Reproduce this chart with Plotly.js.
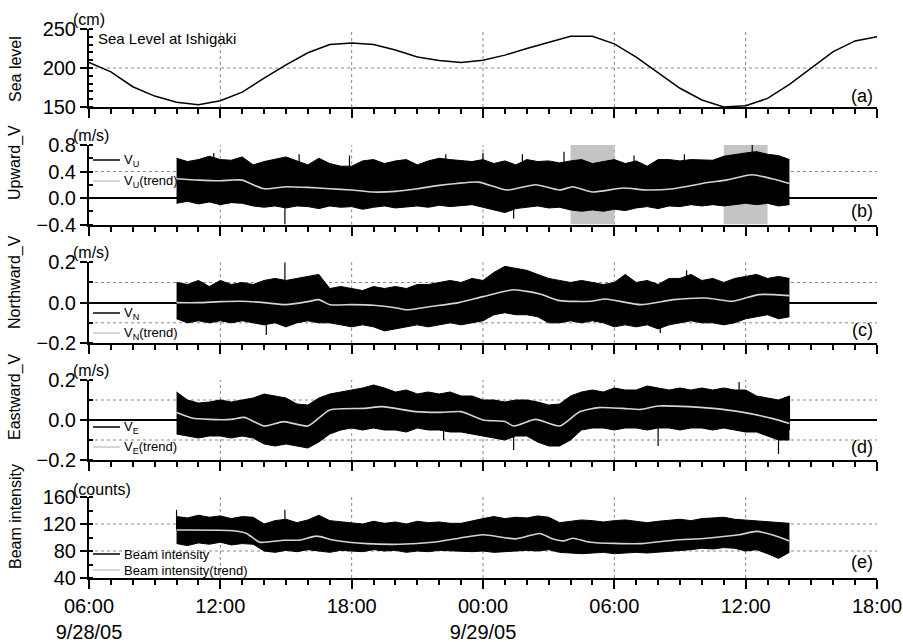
<!DOCTYPE html>
<html>
<head>
<meta charset="utf-8">
<script src="https://cdn.plot.ly/plotly-3.0.1.min.js"></script>
<style>html,body{margin:0;padding:0;background:#fff;}#chart{width:903px;height:642px;}</style>
</head>
<body>
<div id="chart"></div>
<script>
// ---------- DATA (hours since 2005-09-28 06:00) ----------
const seaHours = [0,1,2,3,4,5,6,7,8,9,10,11,12,13,14,15,16,17,18,19,20,21,22,23,24,25,26,27,28,29,30,31,32,33,34,35,36];
const seaLevel = [207,195,176,164,156,153,158,169,187,204,219.5,230,232,230,223,214,209.5,207,210,216.5,225,233,240.7,240.7,231,214,194,174,159,150,151.7,161,179,200,221,234.7,240];

const envHours = [4,4.5,5,5.5,6,6.5,7,7.5,8,8.5,9,9.5,10,10.5,11,11.5,12,12.5,13,13.5,14,14.5,15,15.5,16,16.5,17,17.5,18,18.5,19,19.5,20,20.5,21,21.5,22,22.5,23,23.5,24,24.5,25,25.5,26,26.5,27,27.5,28,28.5,29,29.5,30,30.5,31,31.5,32];

const upU = [0.60,0.55,0.58,0.63,0.58,0.57,0.62,0.50,0.55,0.58,
             0.62,0.56,0.50,0.60,0.52,0.48,0.48,0.56,0.58,0.52,
             0.56,0.58,0.50,0.56,0.60,0.58,0.56,0.55,0.58,0.52,
             0.56,0.50,0.58,0.55,0.56,0.53,0.56,0.58,0.52,0.55,
             0.58,0.52,0.56,0.48,0.58,0.58,0.56,0.58,0.58,0.57,
             0.63,0.66,0.68,0.70,0.66,0.64,0.58];
const loU = [-0.08,-0.05,-0.09,-0.06,-0.10,-0.07,-0.08,-0.12,-0.14,-0.12,
             -0.15,-0.12,-0.13,-0.16,-0.12,-0.14,-0.13,-0.17,-0.14,-0.12,
             -0.15,-0.13,-0.12,-0.14,-0.11,-0.13,-0.12,-0.10,-0.14,-0.18,
             -0.22,-0.16,-0.14,-0.12,-0.15,-0.14,-0.18,-0.20,-0.18,-0.20,
             -0.17,-0.19,-0.15,-0.13,-0.16,-0.12,-0.13,-0.10,-0.12,-0.10,
             -0.12,-0.10,-0.08,-0.10,-0.08,-0.12,-0.10];
const trendUHours = [4,5,6,6.5,7,7.5,8,8.5,9,10,11,12,13,14,15,16,16.8,17.8,19.1,20.4,21.5,22.1,23,24.4,25.5,26.7,28.2,29.1,30.3,31.2,32];
const trendU = [0.29,0.27,0.26,0.27,0.27,0.20,0.14,0.15,0.17,0.16,0.14,0.12,0.09,0.10,0.14,0.19,0.22,0.24,0.12,0.20,0.12,0.17,0.09,0.15,0.12,0.14,0.23,0.27,0.35,0.29,0.22];
const spikeUHours = [8.95,19.4,30.3,5.7,9.6,11.9,16.3,18.0,19.8,21.7,24.9,27.2];
const spikeUFrom = [0.0,-0.1,0.5,0.4,0.4,0.4,0.4,0.4,0.4,0.4,0.4,0.4];
const spikeUTo = [-0.4,-0.31,0.8,0.68,0.66,0.64,0.66,0.68,0.66,0.70,0.64,0.66];

const upN = [0.10,0.09,0.11,0.08,0.11,0.09,0.10,0.09,0.11,0.12,
             0.11,0.12,0.13,0.14,0.07,0.08,0.07,0.06,0.08,0.07,
             0.08,0.07,0.09,0.09,0.10,0.11,0.10,0.12,0.11,0.15,
             0.18,0.17,0.16,0.14,0.12,0.11,0.10,0.11,0.10,0.09,
             0.10,0.14,0.10,0.11,0.09,0.12,0.12,0.14,0.11,0.12,
             0.10,0.12,0.13,0.14,0.12,0.13,0.12];
const loN = [-0.08,-0.10,-0.09,-0.10,-0.09,-0.10,-0.09,-0.10,-0.11,-0.10,
             -0.12,-0.10,-0.09,-0.10,-0.10,-0.11,-0.12,-0.11,-0.12,-0.14,
             -0.13,-0.12,-0.11,-0.12,-0.11,-0.10,-0.11,-0.10,-0.09,-0.06,
             -0.05,-0.06,-0.06,-0.07,-0.10,-0.10,-0.09,-0.10,-0.09,-0.10,
             -0.12,-0.11,-0.12,-0.11,-0.13,-0.11,-0.10,-0.09,-0.10,-0.10,
             -0.11,-0.10,-0.08,-0.07,-0.06,-0.08,-0.07];
const trendNHours = [4,5,6,7,8,9,10,10.5,11,12,13,14,14.5,15.7,16.9,18,19.4,20.6,21.5,22.9,23.6,25.2,26.7,28.2,29.4,30.6,32];
const trendN = [0.0,0.0,0.005,0.007,0.0,-0.01,0.005,0.015,-0.01,-0.01,-0.013,-0.025,-0.035,-0.018,0.0,0.03,0.064,0.043,0.01,0.007,0.018,-0.01,0.015,0.023,0.007,0.04,0.035];
const spikeNHours = [8.95,8.1,26.1,27.3];
const spikeNFrom = [0.05,-0.05,-0.05,0.05];
const spikeNTo = [0.2,-0.16,-0.15,0.16];

const upE = [0.14,0.10,0.085,0.09,0.10,0.09,0.10,0.11,0.13,0.12,
             0.11,0.08,0.075,0.11,0.13,0.14,0.15,0.16,0.175,0.16,
             0.14,0.15,0.13,0.14,0.13,0.14,0.12,0.12,0.10,0.10,
             0.09,0.10,0.10,0.09,0.075,0.08,0.12,0.14,0.15,0.14,
             0.16,0.15,0.15,0.17,0.16,0.15,0.16,0.15,0.16,0.15,
             0.16,0.15,0.15,0.12,0.11,0.10,0.12];
const loE = [-0.07,-0.08,-0.09,-0.08,-0.08,-0.09,-0.08,-0.09,-0.12,-0.13,
             -0.12,-0.13,-0.14,-0.11,-0.07,-0.05,-0.04,-0.05,-0.04,-0.05,
             -0.05,-0.06,-0.04,-0.05,-0.05,-0.06,-0.06,-0.07,-0.08,-0.09,
             -0.10,-0.08,-0.08,-0.11,-0.13,-0.13,-0.10,-0.05,-0.04,-0.04,
             -0.05,-0.04,-0.04,-0.05,-0.04,-0.04,-0.05,-0.04,-0.04,-0.05,
             -0.04,-0.05,-0.06,-0.06,-0.08,-0.10,-0.10];
const trendEHours = [4,4.7,5.5,6.5,7.1,8,8.9,10,11,12.6,13.4,14.9,16,17,18,19,19.4,20.4,21.5,22.4,23.3,24.4,25.2,26,27.4,28.5,29.7,31.2,32];
const trendE = [0.037,0.01,0.003,0.003,0.013,-0.03,-0.008,-0.03,0.05,0.058,0.067,0.042,0.038,0.042,0.0,-0.008,-0.03,0.003,-0.03,0.04,0.062,0.058,0.053,0.07,0.067,0.058,0.042,0.008,-0.017];
const spikeEHours = [16.2,19.4,26.0,29.7,31.5,32.0];
const spikeEFrom = [0.0,-0.05,0.0,0.1,-0.05,-0.05];
const spikeETo = [-0.1,-0.15,-0.13,0.19,-0.17,0.12];

const upB = [131,129,133,130,132,128,131,130,120,125,
             127,122,126,133,125,123,122,120,124,121,
             123,120,124,122,123,121,121,125,128,131,
             128,130,129,132,130,122,124,126,125,123,
             125,126,124,122,124,126,127,125,128,129,
             130,127,126,124,123,122,121];
const loB = [91,88,92,90,93,89,91,90,80,78,
             81,79,82,80,78,81,80,79,82,80,
             81,78,80,79,81,80,80,79,80,78,
             79,80,81,80,82,78,77,76,77,78,
             76,77,78,77,78,79,80,82,84,83,
             85,84,80,82,76,69,78];
const trendBHours = [4,6.6,7.2,7.8,8.9,9.6,10.4,11.2,12.7,14.2,15.7,16.9,18,19.5,20.6,21.1,21.7,22.1,22.9,25.2,26.7,28.2,29.7,30.5,31.2,32];
const trendB = [111,110,106,93,96,96,102,96,91,90,93,99,104,98,106,99,95,99,93,91,96,99,104,109,104,95];
const spikeBHours = [4.0,8.95];
const spikeBFrom = [110,100];
const spikeBTo = [141,141];

const shadeStart = ['2005-09-29 04:00','2005-09-29 11:00'];
const shadeEnd = ['2005-09-29 06:00','2005-09-29 13:00'];
const gridTimes = ['2005-09-28 12:00','2005-09-28 18:00','2005-09-29 00:00','2005-09-29 06:00','2005-09-29 12:00'];
const xTickVals = ['2005-09-28 06:00','2005-09-28 12:00','2005-09-28 18:00','2005-09-29 00:00','2005-09-29 06:00','2005-09-29 12:00','2005-09-29 18:00'];
const xTickText = ['06:00<br>9/28/05','12:00','18:00','00:00<br>9/29/05','06:00','12:00','18:00'];

// ---------- helpers ----------
const T0 = Date.UTC(2005,8,28,6,0,0);
function hd(h){ return new Date(T0 + h*3600000).toISOString().slice(0,19).replace('T',' '); }
function hdArr(a){ return a.map(hd); }
const W0 = 89, W1 = 877, Y0 = 29, Y1 = 578;
function px(x){ return (x - W0)/(W1 - W0); }
function py(y){ return (Y1 - y)/(Y1 - Y0); }
const FONT = 'Liberation Sans, Arial, sans-serif';

const traces = [];
function band(lo, up, ax){
  const xs = hdArr(envHours);
  traces.push({x: xs, y: lo, xaxis: 'x'+ax, yaxis: 'y'+ax, mode: 'lines', line: {color: '#000', width: 1}, hoverinfo: 'skip', showlegend: false});
  traces.push({x: xs, y: up, xaxis: 'x'+ax, yaxis: 'y'+ax, mode: 'lines', fill: 'tonexty', fillcolor: '#000', line: {color: '#000', width: 1}, hoverinfo: 'skip', showlegend: false});
}
function spikes(hs, from, to, ax){
  const xs = [], ys = [];
  hs.forEach((h,i) => { xs.push(hd(h), hd(h), null); ys.push(from[i], to[i], null); });
  traces.push({x: xs, y: ys, xaxis: 'x'+ax, yaxis: 'y'+ax, mode: 'lines', line: {color: '#000', width: 1.2}, hoverinfo: 'skip', showlegend: false, connectgaps: false});
}
function trend(hs, v, ax){
  traces.push({x: hdArr(hs), y: v, xaxis: 'x'+ax, yaxis: 'y'+ax, mode: 'lines', line: {color: '#d4d4d4', width: 1.6, shape: 'spline', smoothing: 0.6}, hoverinfo: 'skip', showlegend: false});
}

traces.push({x: hdArr(seaHours), y: seaLevel, xaxis: 'x', yaxis: 'y', mode: 'lines', line: {color: '#000', width: 1.5}, showlegend: false});
band(loU, upU, 2); spikes(spikeUHours, spikeUFrom, spikeUTo, 2); trend(trendUHours, trendU, 2);
band(loN, upN, 3); spikes(spikeNHours, spikeNFrom, spikeNTo, 3); trend(trendNHours, trendN, 3);
band(loE, upE, 4); spikes(spikeEHours, spikeEFrom, spikeETo, 4); trend(trendEHours, trendE, 4);
band(loB, upB, 5); spikes(spikeBHours, spikeBFrom, spikeBTo, 5); trend(trendBHours, trendB, 5);

// ---------- axes ----------
const xRange = ['2005-09-28 06:00','2005-09-29 18:00'];
function xaxis(anchor, labels){
  return {
    type: 'date', range: xRange, domain: [0,1], anchor: anchor, matches: anchor === 'y' ? undefined : 'x',
    showline: true, linecolor: '#000', linewidth: 2, showgrid: false, zeroline: false,
    tickmode: 'array', tickvals: xTickVals, ticktext: xTickText,
    ticks: 'outside', ticklen: 9, tickwidth: 2, tickcolor: '#000',
    minor: {tickmode: 'linear', tick0: '2005-09-28 06:00', dtick: 3600000, ticks: 'outside', ticklen: 5, tickwidth: 2, tickcolor: '#000', showgrid: false},
    showticklabels: labels, tickfont: {family: FONT, size: 20, color: '#000'}, layer: 'above traces'
  };
}
function yaxis(anchor, dom, range, tickvals, fmt, minorDt, zl){
  return {
    domain: dom, range: range, anchor: anchor,
    showline: true, linecolor: '#000', linewidth: 2, showgrid: false,
    zeroline: zl, zerolinecolor: '#000', zerolinewidth: 2,
    tickmode: 'array', tickvals: tickvals, tickformat: fmt,
    ticks: 'outside', ticklen: 7, tickwidth: 2, tickcolor: '#000',
    minor: {tickmode: 'linear', dtick: minorDt, tick0: range[0], ticks: 'inside', ticklen: 4, tickwidth: 2, tickcolor: '#000', showgrid: false},
    tickfont: {family: FONT, size: 20, color: '#000'}, layer: 'above traces', fixedrange: true
  };
}

const layout = {
  width: 903, height: 642,
  margin: {l: W0, r: 903 - W1, t: Y0, b: 642 - Y1},
  paper_bgcolor: '#fff', plot_bgcolor: 'rgba(0,0,0,0)',
  showlegend: false,
  font: {family: FONT, color: '#000'},
  xaxis: xaxis('y', false), xaxis2: xaxis('y2', false), xaxis3: xaxis('y3', false), xaxis4: xaxis('y4', false), xaxis5: xaxis('y5', true),
  yaxis: yaxis('x', [py(107), py(29)], [150, 250], [150, 200, 250], 'd', 10, false),
  yaxis2: yaxis('x2', [py(224.5), py(145)], [-0.4, 0.8], [-0.4, 0, 0.4, 0.8], '.1f', 0.2, true),
  yaxis3: yaxis('x3', [py(343), py(262.3)], [-0.2, 0.2], [-0.2, 0, 0.2], '.1f', 0.1, true),
  yaxis4: yaxis('x4', [py(460), py(380)], [-0.2, 0.2], [-0.2, 0, 0.2], '.1f', 0.1, true),
  yaxis5: yaxis('x5', [py(578), py(497)], [40, 160], [40, 80, 120, 160], 'd', 20, false),
  shapes: [], annotations: []
};

// grid lines (dotted)
const gridStyle = {color: '#888', width: 1, dash: 'dot'};
['', '2', '3', '4', '5'].forEach(s => {
  gridTimes.forEach(t => layout.shapes.push({type: 'line', xref: 'x'+s, yref: 'y'+s+' domain', x0: t, x1: t, y0: 0, y1: 1, line: gridStyle, layer: 'below'}));
});
const hGrid = [['', 200], ['2', 0.4], ['3', 0.1], ['3', -0.1], ['4', 0.1], ['4', -0.1], ['5', 80], ['5', 120]];
hGrid.forEach(g => layout.shapes.push({type: 'line', xref: 'x'+g[0]+' domain', yref: 'y'+g[0], x0: 0, x1: 1, y0: g[1], y1: g[1], line: gridStyle, layer: 'below'}));
// shaded windows in (b)
shadeStart.forEach((s, i) => layout.shapes.push({type: 'rect', xref: 'x2', yref: 'y2', x0: s, x1: shadeEnd[i], y0: -0.4, y1: 0.8, fillcolor: '#c4c4c4', line: {width: 0}, layer: 'below'}));

// legends (sample lines + text)
const legendItems = [
  [160, '#000', 'V<sub>U</sub>'], [181, '#c8c8c8', 'V<sub>U</sub>(trend)'],
  [313, '#000', 'V<sub>N</sub>'], [333, '#c8c8c8', 'V<sub>N</sub>(trend)'],
  [427, '#000', 'V<sub>E</sub>'], [447, '#c8c8c8', 'V<sub>E</sub>(trend)'],
  [554, '#000', 'Beam intensity'], [570, '#c8c8c8', 'Beam intensity(trend)']
];
legendItems.forEach(it => {
  layout.shapes.push({type: 'line', xref: 'paper', yref: 'paper', x0: px(93), x1: px(120), y0: py(it[0]), y1: py(it[0]), line: {color: it[1], width: 1.5}});
  layout.annotations.push({xref: 'paper', yref: 'paper', x: px(122), y: py(it[0]), xanchor: 'left', yanchor: 'middle', text: it[2], showarrow: false, font: {family: FONT, size: 13, color: '#000'}});
});

// y titles
const yTitles = [['Sea level', 69], ['Upward_V', 163], ['Northward_V', 282], ['Eastward_V', 397], ['Beam intensity', 517]];
yTitles.forEach(t => layout.annotations.push({xref: 'paper', yref: 'paper', x: px(15), y: py(t[1]), xanchor: 'center', yanchor: 'middle', textangle: -90, text: t[0], showarrow: false, font: {family: FONT, size: 16, color: '#000'}}));
// units
const units = [['(cm)', 20], ['(m/s)', 135], ['(m/s)', 252], ['(m/s)', 370], ['(counts)', 489]];
units.forEach(u => layout.annotations.push({xref: 'paper', yref: 'paper', x: px(71), y: py(u[1]), xanchor: 'left', yanchor: 'middle', text: u[0], showarrow: false, font: {family: FONT, size: 16, color: '#000'}}));
// panel letters
const panelLabels = [['(a)', 96], ['(b)', 211], ['(c)', 330], ['(d)', 447], ['(e)', 562]];
panelLabels.forEach(p => layout.annotations.push({xref: 'paper', yref: 'paper', x: px(875), y: py(p[1]), xanchor: 'right', yanchor: 'middle', text: p[0], showarrow: false, font: {family: FONT, size: 18, color: '#000'}}));
// in-panel title
layout.annotations.push({xref: 'paper', yref: 'paper', x: px(96), y: py(38.5), xanchor: 'left', yanchor: 'middle', text: 'Sea Level at Ishigaki', showarrow: false, font: {family: FONT, size: 15, color: '#000'}});

Plotly.newPlot('chart', traces, layout, {staticPlot: true, displayModeBar: false});
</script>
</body>
</html>
